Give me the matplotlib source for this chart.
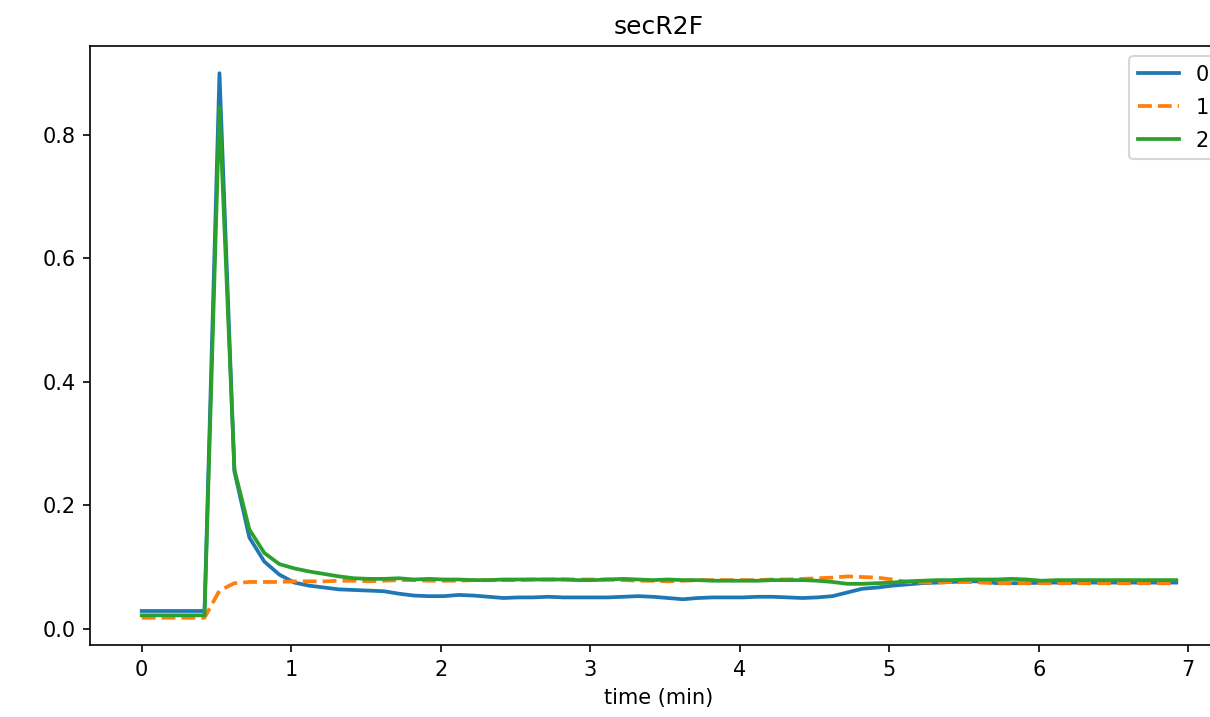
import matplotlib
matplotlib.use("Agg")
import matplotlib.pyplot as plt

time_min = [0.0, 0.42, 0.52, 0.62, 0.72, 0.82, 0.92, 1.02, 1.12, 1.22, 1.32,
            1.42, 1.52, 1.62, 1.72, 1.82, 1.92, 2.02, 2.12, 2.22, 2.32,
            2.42, 2.52, 2.62, 2.72, 2.82, 2.92, 3.02, 3.12, 3.22, 3.32,
            3.42, 3.52, 3.62, 3.72, 3.82, 3.92, 4.02, 4.12, 4.22, 4.32,
            4.42, 4.52, 4.62, 4.72, 4.82, 4.92, 5.02, 5.12, 5.22, 5.32,
            5.42, 5.52, 5.62, 5.72, 5.82, 5.92, 6.02, 6.12, 6.22, 6.32,
            6.42, 6.52, 6.62, 6.72, 6.82, 6.92]

series_0 = [0.029, 0.029, 0.900, 0.255, 0.148, 0.109, 0.088, 0.075, 0.070, 0.067, 0.064,
            0.063, 0.062, 0.061, 0.057, 0.054, 0.053, 0.053, 0.055, 0.054, 0.052,
            0.050, 0.051, 0.051, 0.052, 0.051, 0.051, 0.051, 0.051, 0.052, 0.053,
            0.052, 0.050, 0.048, 0.050, 0.051, 0.051, 0.051, 0.052, 0.052, 0.051,
            0.050, 0.051, 0.053, 0.059, 0.065, 0.067, 0.070, 0.072, 0.074, 0.075,
            0.076, 0.077, 0.077, 0.074, 0.074, 0.074, 0.075, 0.075, 0.075, 0.075,
            0.075, 0.075, 0.075, 0.075, 0.075, 0.075]

series_1 = [0.018, 0.018, 0.062, 0.074, 0.076, 0.076, 0.076, 0.077, 0.077, 0.077, 0.078,
            0.078, 0.077, 0.078, 0.079, 0.079, 0.078, 0.078, 0.078, 0.079, 0.079,
            0.079, 0.079, 0.080, 0.080, 0.080, 0.080, 0.080, 0.080, 0.079, 0.078,
            0.078, 0.077, 0.078, 0.079, 0.079, 0.079, 0.079, 0.079, 0.080, 0.080,
            0.081, 0.082, 0.083, 0.085, 0.084, 0.083, 0.080, 0.076, 0.075, 0.075,
            0.076, 0.076, 0.075, 0.074, 0.074, 0.074, 0.074, 0.074, 0.074, 0.074,
            0.074, 0.074, 0.074, 0.074, 0.074, 0.074]

series_2 = [0.022, 0.022, 0.845, 0.258, 0.161, 0.123, 0.105, 0.098, 0.093, 0.089, 0.085,
            0.082, 0.081, 0.081, 0.082, 0.080, 0.081, 0.080, 0.080, 0.079, 0.079,
            0.080, 0.080, 0.080, 0.080, 0.080, 0.079, 0.079, 0.080, 0.081, 0.080,
            0.079, 0.080, 0.079, 0.079, 0.078, 0.078, 0.078, 0.078, 0.079, 0.079,
            0.079, 0.078, 0.076, 0.073, 0.073, 0.074, 0.075, 0.077, 0.078, 0.079,
            0.079, 0.080, 0.080, 0.080, 0.081, 0.080, 0.078, 0.079, 0.079, 0.079,
            0.079, 0.079, 0.079, 0.079, 0.079, 0.079]

labels = ["0", "1", "2"]

W, H, DPI = 1210, 717, 150
fig = plt.figure(figsize=(W / DPI, H / DPI), dpi=DPI)
ax = fig.add_axes([90 / W, 1 - 645 / H, (1228 - 90) / W, (645 - 46) / H])

ax.plot(time_min, series_0, color="#1f77b4", lw=1.8, label=labels[0])
ax.plot(time_min, series_1, color="#ff7f0e", lw=1.8, ls="--", label=labels[1])
ax.plot(time_min, series_2, color="#2ca02c", lw=1.8, label=labels[2])

ax.set_title("secR2F")
ax.set_xlabel("time (min)")
ax.set_yticks([0.0, 0.2, 0.4, 0.6, 0.8])
ax.legend(loc="upper right", labelspacing=0.62)

fig.savefig("out.png", dpi=DPI)
